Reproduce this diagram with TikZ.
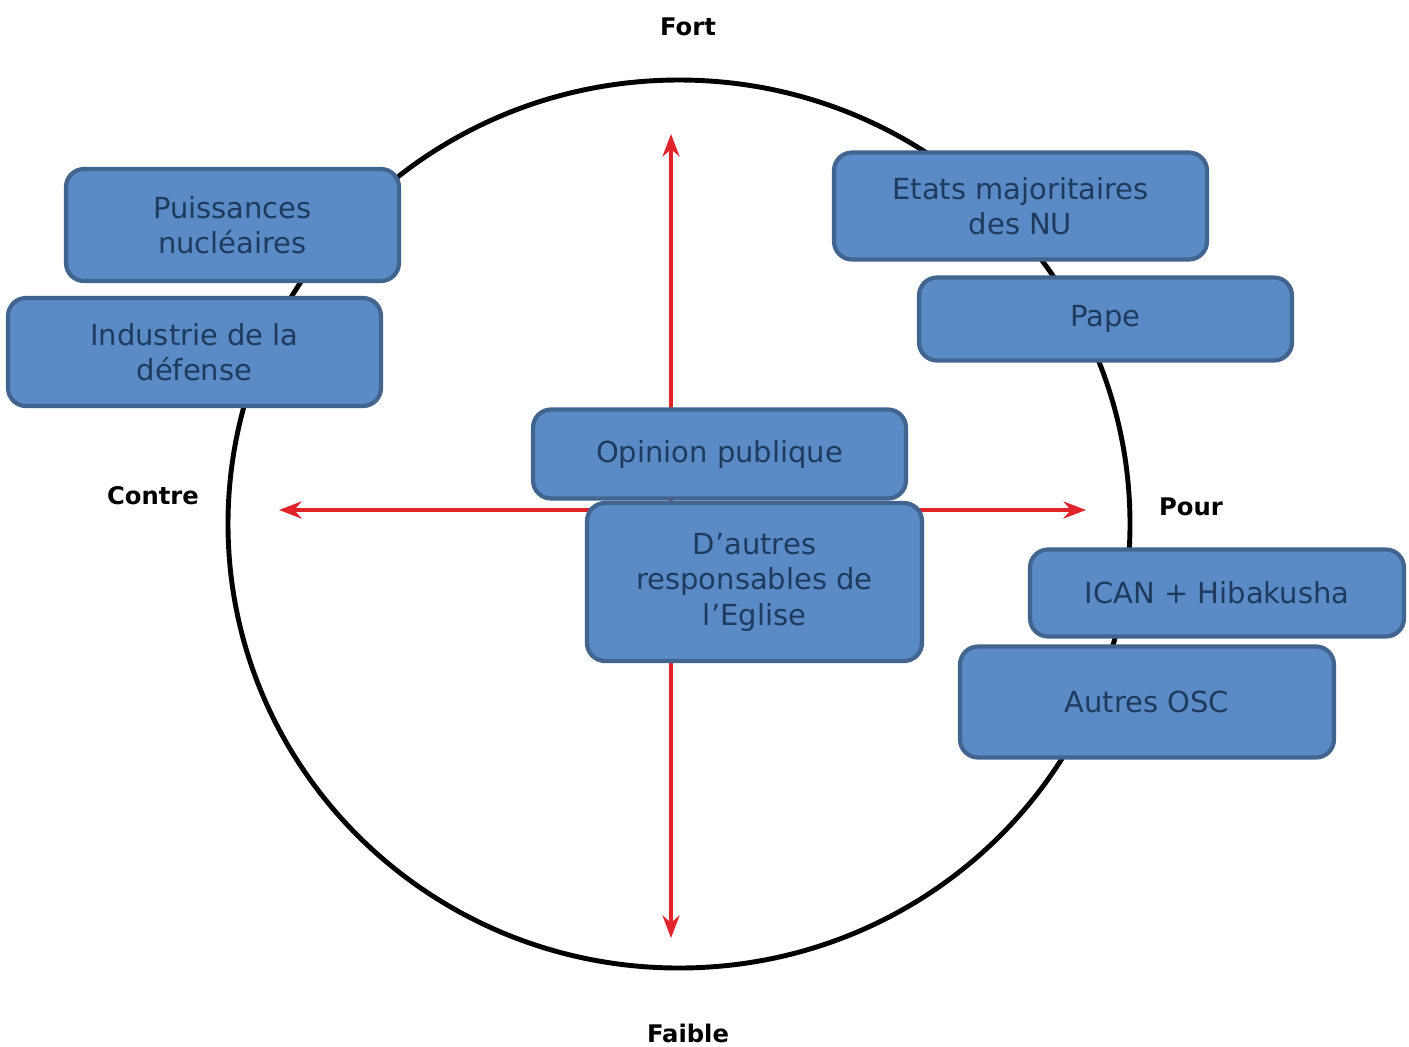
\documentclass[tikz,border=0pt]{standalone}
\usepackage{fontspec}
\setmainfont{DejaVu Sans}
\usetikzlibrary{arrows.meta}
\definecolor{boxfill}{HTML}{5B8BC6}
\definecolor{boxline}{HTML}{41658F}
\definecolor{boxtext}{HTML}{1F3A5C}
\definecolor{axisred}{HTML}{E0242A}
\tikzset{
  actor/.style={draw=boxline, line width=2.4pt, fill=boxfill, rounded corners=0.36cm,
    align=center, inner sep=0pt, text=boxtext,
    font=\fontsize{16.5}{20.2}\selectfont},
  axislabel/.style={font=\fontsize{13.8}{17}\selectfont\bfseries, text=black, inner sep=0pt},
  axis/.style={draw=axisred, line width=2.3pt, {Stealth[length=0.45cm,width=0.34cm]}-{Stealth[length=0.45cm,width=0.34cm]}}
}
\begin{document}
\begin{tikzpicture}[x=0.02cm,y=-0.02cm]
\useasboundingbox (0,0) rectangle (1409,1046);
% circle
\draw[line width=2.8pt, black] (679,524) ellipse [x radius=451, y radius=444];
% axes
\coordinate (top) at (671,134);
\coordinate (bottom) at (671,938);
\coordinate (left) at (279,510);
\coordinate (right) at (1086,510);
\draw[axis] (top) -- (bottom);
\draw[axis] (left) -- (right);
% labels
\node[axislabel] (fort) at (688,27) {Fort};
\node[axislabel] (faible) at (688,1033) {Faible};
\node[axislabel] (contre) at (153,496) {Contre};
\node[axislabel] (pour) at (1191,507) {Pour};
% boxes
\node[actor, minimum width=6.66cm, minimum height=2.24cm] (puiss) at (232.5,225) {Puissances\\nucléaires};
\node[actor, minimum width=7.46cm, minimum height=2.16cm] (indus) at (194.5,352) {Industrie de la\\défense};
\node[actor, minimum width=7.46cm, minimum height=2.14cm] (etats) at (1020.5,206) {Etats majoritaires\\des NU};
\node[actor, minimum width=7.46cm, minimum height=1.66cm] (pape) at (1105.5,319) {Pape};
\node[actor, minimum width=7.46cm, minimum height=1.78cm] (opinion) at (719.5,454) {Opinion publique};
\node[actor, minimum width=6.70cm, minimum height=3.16cm] (eglise) at (754.5,582) {D’autres\\responsables de\\l’Eglise};
\node[actor, minimum width=7.48cm, minimum height=1.74cm] (ican) at (1217,593) {ICAN + Hibakusha};
\node[actor, minimum width=7.48cm, minimum height=2.22cm] (osc) at (1147,702) {Autres OSC};
\end{tikzpicture}
\end{document}
